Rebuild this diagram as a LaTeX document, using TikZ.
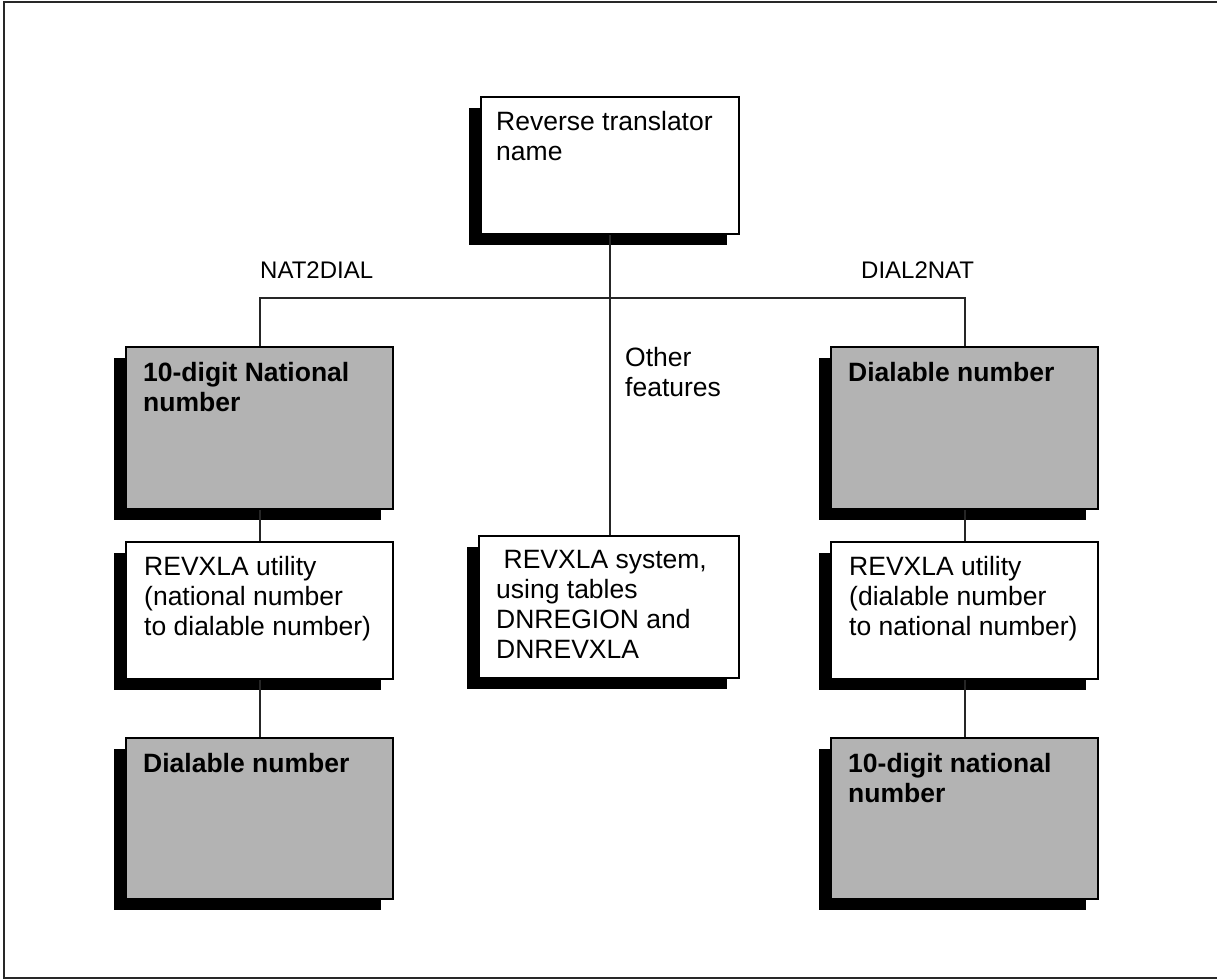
\documentclass[tikz,border=0pt]{standalone}
\usepackage{fontspec}
\setmainfont{Liberation Sans}
\usetikzlibrary{shadows}
\definecolor{boxgray}{RGB}{179,179,179}
\definecolor{framegray}{RGB}{40,40,40}

\begin{document}
\begin{tikzpicture}[x=1pt,y=-1pt,
  box/.style={draw=black, line width=2pt, fill=white, rectangle, inner sep=0pt,
    anchor=north west,
    drop shadow={shadow xshift=-12pt, shadow yshift=-11pt, fill=black, opacity=1}},
  graybox/.style={box, fill=boxgray},
  wide/.style={minimum width=267pt},
  txt/.style={anchor=north west, inner sep=0pt, align=left,
    font=\fontsize{26.5pt}{30pt}\selectfont},
  btxt/.style={txt, font=\fontsize{26.5pt}{30pt}\selectfont\bfseries},
  lbl/.style={inner sep=0pt, font=\fontsize{24pt}{28pt}\selectfont},
  wire/.style={draw=black!85, line width=2pt}
]
\useasboundingbox (0,0) rectangle (1217,979);

% outer frame (open at the right)
\draw[framegray, line width=2pt] (1217,2.5) -- (3.5,2.5) -- (3.5,977.5) -- (1217,977.5);

% boxes
\node[box, minimum width=258pt, minimum height=137pt] (top) at (480,96) {};
\node[graybox, wide, minimum height=162pt] (l1) at (125,346) {};
\node[box, wide, minimum height=137pt] (l2) at (125,541) {};
\node[graybox, wide, minimum height=161pt] (l3) at (125,737) {};
\node[box, minimum width=260pt, minimum height=142pt] (c) at (478,535) {};
\node[graybox, wide, minimum height=162pt] (r1) at (830,346) {};
\node[box, wide, minimum height=137pt] (r2) at (830,541) {};
\node[graybox, wide, minimum height=161pt] (r3) at (830,737) {};

% connectors
\coordinate (bar) at (top.south |- 0,298);
\draw[wire] (top.south) -- (top.south |- c.north);
\draw[wire] (l1.north) |- (bar) -| (r1.north);
\draw[wire] (l1.south) -- (l2.north);
\draw[wire] (l2.south) -- (l3.north);
\draw[wire] (r1.south) -- (r2.north);
\draw[wire] (r2.south) -- (r3.north);

% box texts
\node[txt] (toptext) at ([shift={(16pt,-15pt)}]top.north west) {Reverse translator\\name};
\node[btxt] (l1text) at ([shift={(18pt,-16pt)}]l1.north west) {10-digit National\\number};
\node[txt] (l2text) at ([shift={(19pt,-15pt)}]l2.north west) {REVXLA utility\\(national number\\to dialable number)};
\node[btxt] (l3text) at ([shift={(18pt,-16pt)}]l3.north west) {Dialable number};
\node[txt] (ctext) at ([shift={(18pt,-15pt)}]c.north west) {\hspace{0.28em}REVXLA system,\\using tables\\DNREGION and\\DNREVXLA};
\node[btxt] (r1text) at ([shift={(18pt,-16pt)}]r1.north west) {Dialable number};
\node[txt] (r2text) at ([shift={(19pt,-15pt)}]r2.north west) {REVXLA utility\\(dialable number\\to national number)};
\node[btxt] (r3text) at ([shift={(18pt,-16pt)}]r3.north west) {10-digit national\\number};

% branch labels
\node[lbl, anchor=west] (natlbl) at (260,270) {NAT2DIAL};
\node[lbl, anchor=west] (diallbl) at (861,270) {DIAL2NAT};
\node[txt] (otherlbl) at (625,347) {Other\\features};
\end{tikzpicture}
\end{document}
